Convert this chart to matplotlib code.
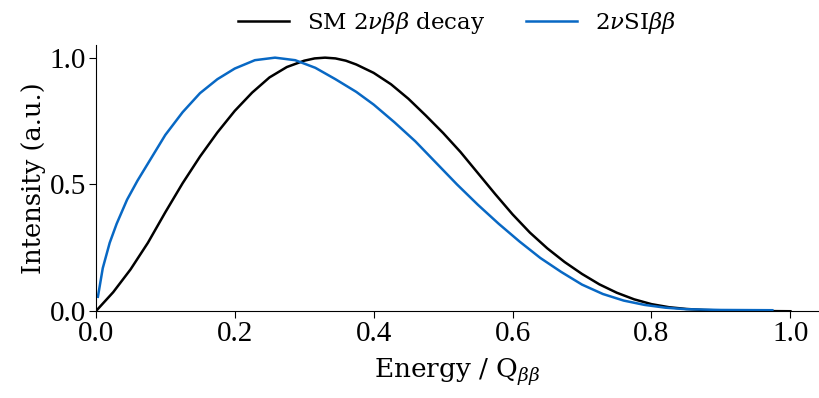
import matplotlib
matplotlib.use("Agg")
import matplotlib.pyplot as plt

plt.rcParams['font.family'] = ['DejaVu Serif']
plt.rcParams['mathtext.fontset'] = 'dejavuserif'

# SM 2vbb decay spectrum
sm_x = [0.0, 0.025, 0.05, 0.075, 0.1, 0.125, 0.15, 0.175, 0.2, 0.225, 0.25,
        0.275, 0.3, 0.315, 0.33, 0.345, 0.36, 0.375, 0.4, 0.425, 0.45, 0.475,
        0.5, 0.525, 0.55, 0.575, 0.6, 0.625, 0.65, 0.675, 0.7, 0.725, 0.75,
        0.775, 0.8, 0.825, 0.85, 0.875, 0.9, 0.95, 1.0]
sm_y = [0.0, 0.075, 0.165, 0.27, 0.39, 0.505, 0.61, 0.705, 0.79, 0.862, 0.922,
        0.963, 0.988, 0.997, 1.0, 0.997, 0.988, 0.973, 0.94, 0.895, 0.838, 0.772,
        0.703, 0.628, 0.545, 0.462, 0.382, 0.31, 0.248, 0.194, 0.147, 0.106, 0.073,
        0.047, 0.028, 0.016, 0.009, 0.005, 0.003, 0.001, 0.0]

# 2vSIbb spectrum
si_x = [0.003, 0.01, 0.02, 0.03, 0.045, 0.06, 0.08, 0.1, 0.125, 0.15, 0.175,
        0.2, 0.229, 0.258, 0.287, 0.316, 0.345, 0.375, 0.4, 0.43, 0.46, 0.49,
        0.52, 0.55, 0.58, 0.61, 0.64, 0.67, 0.7, 0.73, 0.76, 0.79, 0.82, 0.85,
        0.9, 0.974]
si_y = [0.057, 0.17, 0.27, 0.345, 0.44, 0.515, 0.605, 0.695, 0.785, 0.86, 0.915,
        0.957, 0.99, 1.0, 0.99, 0.96, 0.915, 0.865, 0.815, 0.745, 0.67, 0.585,
        0.5, 0.42, 0.345, 0.275, 0.21, 0.155, 0.105, 0.068, 0.042, 0.025, 0.014,
        0.008, 0.005, 0.004]

fig = plt.figure(figsize=(8.19, 3.98), dpi=100)
ax = fig.add_axes([0.117, 0.218, 0.882, 0.669])

ax.plot(sm_x, sm_y, color='black', lw=1.8, label=r'SM 2$\nu\beta\beta$ decay')
ax.plot(si_x, si_y, color='#0868c4', lw=1.8, label=r'2$\nu$SI$\beta\beta$')

ax.set_xlim(0, 1.04)
ax.set_ylim(0, 1.05)
ax.set_xticks([0.0, 0.2, 0.4, 0.6, 0.8, 1.0])
ax.set_yticks([0.0, 0.5, 1.0])
ax.tick_params(length=5, direction='out', pad=2)
for lab in ax.get_xticklabels() + ax.get_yticklabels():
    lab.set_fontfamily('Liberation Serif')
    lab.set_fontsize(21)
ax.spines['top'].set_visible(False)
ax.spines['right'].set_visible(False)

ax.set_xlabel(r'Energy / Q$_{\beta\beta}$', fontsize=19, labelpad=7)
ax.set_ylabel('Intensity (a.u.)', fontsize=18.5, labelpad=3)

ax.legend(loc='lower center', bbox_to_anchor=(0.5, 1.0), ncol=2, frameon=False,
          fontsize=16.5, handlelength=2.2, columnspacing=1.8, borderaxespad=0.0)

fig.savefig('out.png', dpi=100)
